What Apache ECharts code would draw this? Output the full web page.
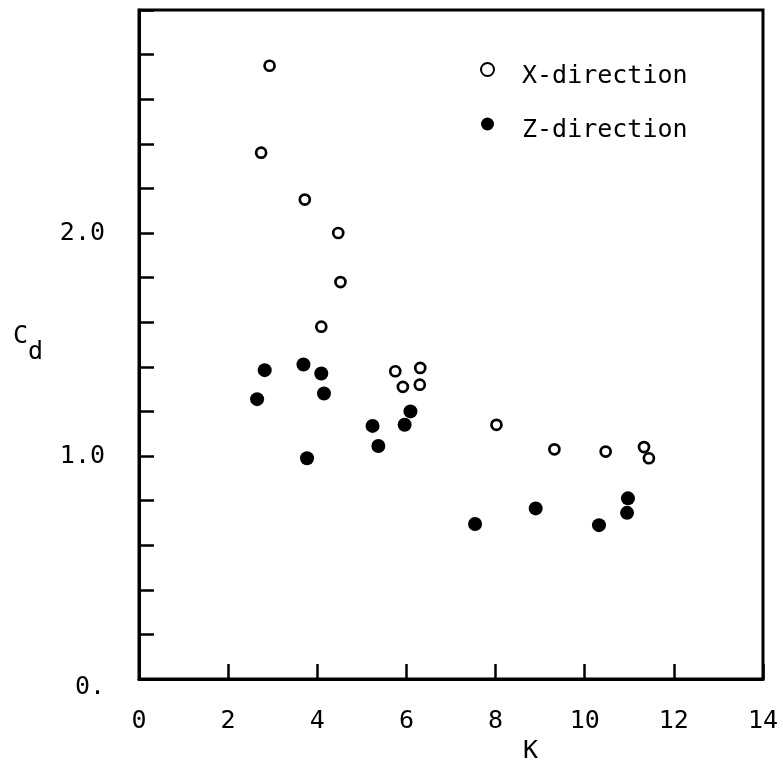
<!DOCTYPE html>
<html>
<head>
<meta charset="utf-8">
<script src="https://cdn.jsdelivr.net/npm/echarts@6/dist/echarts.min.js"></script>
<style>
  html, body { margin: 0; padding: 0; background: #fff; }
  #chart { width: 783px; height: 764px; }
</style>
</head>
<body>
<div id="chart"></div>
<script>
// Drag coefficient C_d against K, for the two flow directions
const seriesNames = ['X-direction', 'Z-direction'];

const kX  = [2.93, 2.74, 3.72, 4.47, 4.52, 4.09, 5.75, 5.92, 6.31, 6.30, 8.02, 9.32, 10.47, 11.33, 11.44];
const cdX = [2.75, 2.36, 2.15, 2.00, 1.78, 1.58, 1.38, 1.31, 1.395, 1.32, 1.14, 1.03, 1.02, 1.04, 0.99];

const kZ  = [2.65, 2.82, 3.69, 4.09, 4.15, 3.77, 5.24, 5.37, 5.96, 6.09, 7.54, 8.90, 10.32, 10.97, 10.95];
const cdZ = [1.255, 1.385, 1.41, 1.37, 1.28, 0.99, 1.135, 1.045, 1.14, 1.20, 0.695, 0.765, 0.69, 0.81, 0.745];

// Labelled ticks on the C_d axis; the others are left blank
const yTickLabels = { 0: '{z|0.}', 1: '1.0', 2: '2.0' };

const FONT = 'DejaVu Sans Mono';
const SIZE = 25;

function pairs(xs, ys) { return xs.map((x, i) => [x, ys[i]]); }

const chart = echarts.init(document.getElementById('chart'), null, { renderer: 'canvas' });

chart.setOption({
  backgroundColor: '#fff',
  animation: false,
  textStyle: { fontFamily: FONT, color: '#000' },
  grid: {
    left: 139, right: 20, top: 10, bottom: 85,
    show: true, borderColor: '#000', borderWidth: 3, backgroundColor: 'transparent'
  },
  title: {
    text: 'K',
    left: 518, top: 734,
    textStyle: { fontFamily: FONT, fontSize: SIZE, fontWeight: 'normal', color: '#000' }
  },
  legend: {
    orient: 'vertical',
    left: 475, top: 57,
    padding: 5,
    itemWidth: 13, itemHeight: 13,
    itemGap: 29,
    data: seriesNames,
    formatter: function (name) { return '{t|' + name + '}'; },
    textStyle: {
      fontFamily: FONT, fontSize: SIZE, color: '#000',
      rich: { t: { fontFamily: FONT, fontSize: SIZE, color: '#000', padding: [13, 0, 0, 23] } }
    }
  },
  xAxis: {
    type: 'value', min: 0, max: 14, interval: 2,
    axisLine: { show: true, lineStyle: { color: '#000', width: 3 } },
    axisTick: { show: true, inside: true, length: 15, lineStyle: { color: '#000', width: 2.5 } },
    axisLabel: { margin: 30, fontFamily: FONT, fontSize: SIZE, color: '#000' },
    splitLine: { show: false }
  },
  yAxis: {
    type: 'value', min: 0, max: 3, interval: 0.2,
    name: '{c|C}{d|d}',
    nameLocation: 'middle', nameRotate: 0, nameGap: 96,
    nameTextStyle: {
      fontFamily: FONT, fontSize: SIZE, color: '#000',
      rich: {
        c: { fontFamily: FONT, fontSize: SIZE, color: '#000', padding: [0, 0, 16, 0] },
        d: { fontFamily: FONT, fontSize: SIZE, color: '#000', padding: [16, 0, 0, 0] }
      }
    },
    axisLine: { show: true, lineStyle: { color: '#000', width: 3 } },
    axisTick: { show: true, inside: true, length: 15, lineStyle: { color: '#000', width: 2.5 } },
    axisLabel: {
      margin: 34, fontFamily: FONT, fontSize: SIZE, color: '#000',
      formatter: function (v) {
        const r = Math.round(v);
        return Math.abs(v - r) < 1e-6 && yTickLabels[r] !== undefined ? yTickLabels[r] : '';
      },
      rich: { z: { fontFamily: FONT, fontSize: SIZE, color: '#000', padding: [16, 0, 0, 0] } }
    },
    splitLine: { show: false }
  },
  series: [
    {
      name: seriesNames[0],
      type: 'scatter',
      symbol: 'circle',
      symbolSize: 10,
      itemStyle: { color: '#fff', borderColor: '#000', borderWidth: 2.7, opacity: 1 },
      data: pairs(kX, cdX)
    },
    {
      name: seriesNames[1],
      type: 'scatter',
      symbol: 'circle',
      symbolSize: 14,
      itemStyle: { color: '#000', opacity: 1 },
      data: pairs(kZ, cdZ)
    }
  ]
});
</script>
</body>
</html>
